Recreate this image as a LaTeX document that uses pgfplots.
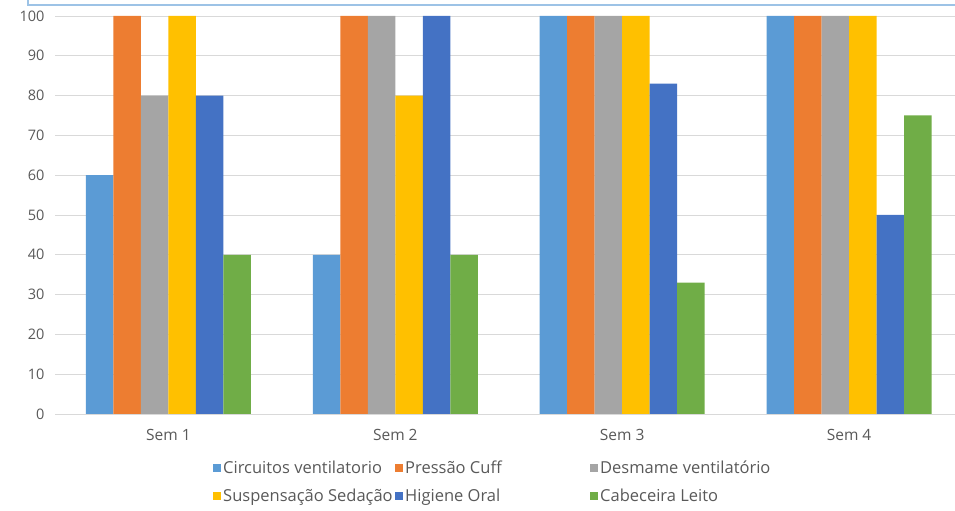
\documentclass[border=0pt]{standalone}
\usepackage{pgfplots}
\pgfplotsset{compat=1.18}
\usepackage{fontspec}
\setmainfont{Open Sans}
\definecolor{c1}{HTML}{5B9BD5}
\definecolor{c2}{HTML}{ED7D31}
\definecolor{c3}{HTML}{A5A5A5}
\definecolor{c4}{HTML}{FFC000}
\definecolor{c5}{HTML}{4472C4}
\definecolor{c6}{HTML}{70AD47}
\definecolor{txt}{HTML}{595959}
\definecolor{grd}{HTML}{D9D9D9}
\definecolor{frame}{HTML}{9DC3E6}
\begin{document}
\begin{tikzpicture}
\begin{axis}[
  at={(55bp,97bp)}, anchor=south west,
  scale only axis, width=900bp, height=398bp,
  xmin=-0.5, xmax=3.467, ymin=0, ymax=100,
  ybar=0pt, bar width=27.5bp,
  xtick={0,1,2,3}, xticklabels={Sem 1,Sem 2,Sem 3,Sem 4},
  ytick={0,10,...,100},
  ymajorgrids, grid style={grd, line width=0.8bp},
  axis x line*=bottom, axis y line*=left,
  y axis line style={draw=none},
  x axis line style={grd, line width=0.8bp, -},
  major tick length=0pt,
  tick label style={font=\fontsize{14.5bp}{17bp}\selectfont, text=txt},
  /pgf/number format/assume math mode=true,
  yticklabel style={xshift=-7bp},
  xticklabel style={yshift=-12bp, font=\fontsize{15.5bp}{18bp}\selectfont},
  clip=false,
  legend columns=3,
  legend cell align=left,
  legend style={draw=none, fill=none, at={(0.1756,-0.113)}, anchor=north west,
    font=\fontsize{16.5bp}{19bp}\selectfont, text=txt, inner sep=0pt,
    /tikz/every even column/.append style={column sep=0bp},
    row sep=10bp},
  legend image code/.code={\fill[#1] (0bp,-4bp) rectangle (8bp,4bp);},
]
\addplot[fill=c1, draw=none] coordinates {(0,60) (1,40) (2,100) (3,100)};
\addplot[fill=c2, draw=none] coordinates {(0,100) (1,100) (2,100) (3,100)};
\addplot[fill=c3, draw=none] coordinates {(0,80) (1,100) (2,100) (3,100)};
\addplot[fill=c4, draw=none] coordinates {(0,100) (1,80) (2,100) (3,100)};
\addplot[fill=c5, draw=none] coordinates {(0,80) (1,100) (2,83) (3,50)};
\addplot[fill=c6, draw=none] coordinates {(0,40) (1,40) (2,33) (3,75)};
\legend{\makebox[170bp][l]{Circuitos ventilatorio},\makebox[183bp][l]{Pressão Cuff},Desmame ventilatório,\makebox[170bp][l]{Suspensação Sedação},\makebox[183bp][l]{Higiene Oral},Cabeceira Leito}
\end{axis}
\draw[frame, line width=1.2bp] (28bp,511bp) -- (28bp,506bp) -- (955bp,506bp);
\pgfresetboundingbox
\path[use as bounding box] (0,0) rectangle (955bp,511bp);
\end{tikzpicture}
\end{document}
